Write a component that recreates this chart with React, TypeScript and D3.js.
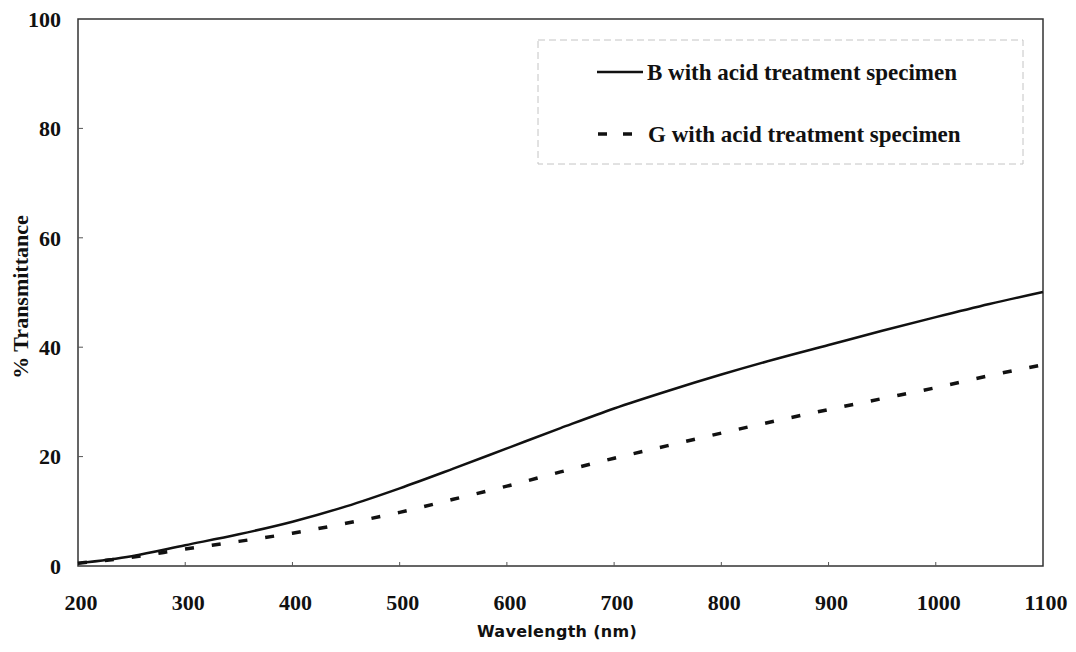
import React from "react";
import * as d3 from "d3";

const wavelengths = [200, 250, 300, 350, 400, 450, 500, 550, 600, 650, 700, 750, 800, 850, 900, 950, 1000, 1050, 1100];
const seriesB = [0.5, 1.8, 3.8, 5.8, 8.1, 10.9, 14.2, 17.8, 21.5, 25.2, 28.8, 32.0, 35.0, 37.8, 40.4, 43.0, 45.5, 47.9, 50.1];
const seriesG = [0.5, 1.6, 3.1, 4.5, 6.0, 7.8, 9.8, 12.2, 14.6, 17.2, 19.7, 22.0, 24.3, 26.5, 28.6, 30.6, 32.6, 34.8, 36.8];
const xTicks = [200, 300, 400, 500, 600, 700, 800, 900, 1000, 1100];
const yTicks = [0, 20, 40, 60, 80, 100];
const legendLabels = ["B with acid treatment specimen", "G with acid treatment specimen"];

const W = 1076;
const H = 652;
const plot = { left: 78, top: 19, right: 1043, bottom: 566 };
const serif = "'Liberation Serif', 'Times New Roman', serif";

export default function App() {
  const x = d3.scaleLinear().domain([200, 1100]).range([plot.left, plot.right]);
  const y = d3.scaleLinear().domain([0, 100]).range([plot.bottom, plot.top]);
  const line = d3
    .line<number>()
    .x((_, i) => x(wavelengths[i]))
    .y((d) => y(d))
    .curve(d3.curveMonotoneX);

  return (
    <svg
      width={W}
      height={H}
      style={{ position: "absolute", left: 0, top: 0, background: "#fff" }}
    >
      {/* legend box */}
      <rect
        x={538}
        y={40}
        width={485}
        height={124}
        fill="none"
        stroke="#c4c4c4"
        strokeWidth={1}
        strokeDasharray="7 4"
      />
      <line x1={597} x2={643} y1={72} y2={72} stroke="#111" strokeWidth={2.5} />
      <line x1={598} x2={634} y1={134} y2={134} stroke="#111" strokeWidth={3.5} strokeDasharray="9 16" />
      <text x={647} y={72} dy="0.35em" fontFamily={serif} fontWeight="bold" fontSize={23} fill="#111">
        {legendLabels[0]}
      </text>
      <text x={648} y={134} dy="0.35em" fontFamily={serif} fontWeight="bold" fontSize={23} fill="#111">
        {legendLabels[1]}
      </text>

      {/* frame */}
      <rect
        x={plot.left}
        y={plot.top}
        width={plot.right - plot.left}
        height={plot.bottom - plot.top}
        fill="none"
        stroke="#333"
        strokeWidth={1.5}
      />

      {/* ticks */}
      {yTicks.slice(1, -1).map((t) => (
        <line key={"yt" + t} x1={plot.left} x2={plot.left + 5} y1={y(t)} y2={y(t)} stroke="#555" strokeWidth={1} />
      ))}
      {xTicks.slice(1, -1).map((t) => (
        <line key={"xt" + t} x1={x(t)} x2={x(t)} y1={plot.bottom} y2={plot.bottom - 4} stroke="#555" strokeWidth={1} />
      ))}

      {/* tick labels */}
      {yTicks.map((t) => (
        <text
          key={"yl" + t}
          x={61}
          y={y(t)}
          dy="0.35em"
          textAnchor="end"
          fontFamily={serif}
          fontWeight="bold"
          fontSize={22}
          fill="#111"
        >
          {t}
        </text>
      ))}
      {xTicks.map((t) => (
        <text
          key={"xl" + t}
          x={x(t) + 3}
          y={602}
          dy="0.35em"
          textAnchor="middle"
          fontFamily={serif}
          fontWeight="bold"
          fontSize={22}
          fill="#111"
        >
          {t}
        </text>
      ))}

      {/* curves */}
      <path d={line(seriesB) || ""} fill="none" stroke="#111" strokeWidth={2.5} />
      <path d={line(seriesG) || ""} fill="none" stroke="#111" strokeWidth={3.5} strokeDasharray="9 18" />

      {/* axis titles */}
      <text
        x={557}
        y={631}
        dy="0.35em"
        textAnchor="middle"
        fontFamily="'DejaVu Sans', sans-serif"
        fontWeight="bold"
        fontSize={16}
        letterSpacing={0.3}
        fill="#111"
      >
        Wavelength (nm)
      </text>
      <text
        transform={`translate(20, 297) rotate(-90)`}
        dy="0.35em"
        textAnchor="middle"
        fontFamily={serif}
        fontWeight="bold"
        fontSize={22}
        fill="#111"
      >
        % Transmittance
      </text>
    </svg>
  );
}
